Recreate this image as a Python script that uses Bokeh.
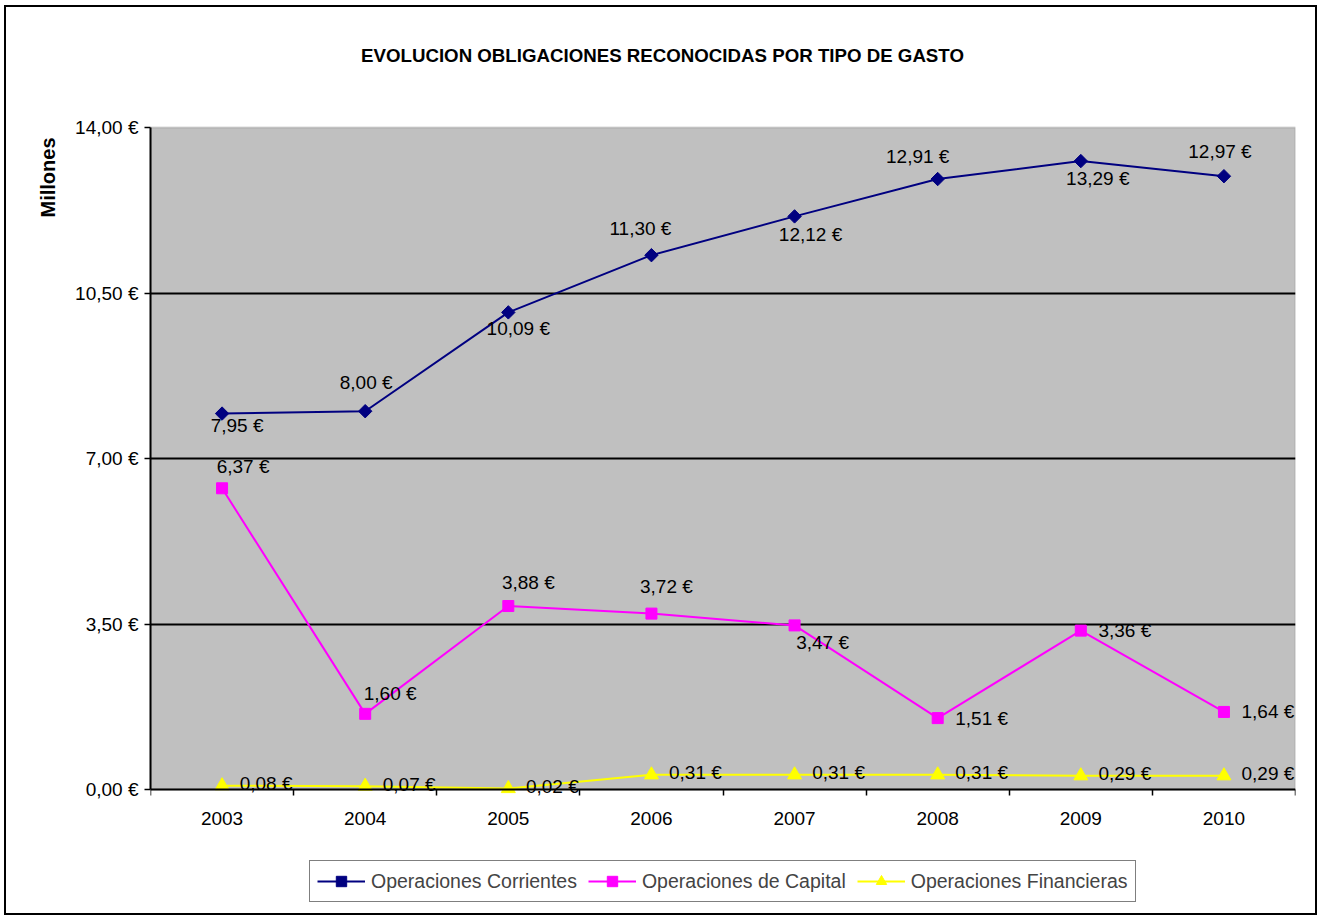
import math
from bokeh.plotting import figure
from bokeh.models import (Range1d, FixedTicker, ColumnDataSource, Legend, LegendItem, Title,
                          BoxAnnotation, Label)
from bokeh.embed import file_html
from bokeh.resources import INLINE
from bokeh.core.properties import value

# ---------------- data ----------------
years = ["2003", "2004", "2005", "2006", "2007", "2008", "2009", "2010"]
corrientes = [7.95, 8.00, 10.09, 11.30, 12.12, 12.91, 13.29, 12.97]
capital = [6.37, 1.60, 3.88, 3.72, 3.47, 1.51, 3.36, 1.64]
financieras = [0.08, 0.07, 0.02, 0.31, 0.31, 0.31, 0.29, 0.29]
series_names = ["Operaciones Corrientes", "Operaciones de Capital", "Operaciones Financieras"]
y_ticks = [0, 3.5, 7, 10.5, 14]
y_tick_labels = ["0,00 €", "3,50 €", "7,00 €", "10,50 €", "14,00 €"]
chart_title = "EVOLUCION OBLIGACIONES RECONOCIDAS POR TIPO DE GASTO"
y_title = "Millones"

# ---------------- styles / layout ----------------
FONT = "Liberation Sans"
FS = "19px"
colors = ["#000080", "#FF00FF", "#FFFF00"]
# data-label pixel offsets (dx right, dy down)
label_offsets = [
    [(15, 12), (1, -29), (10, 16), (-11, -27), (16, 18), (-20, -23), (17, 17), (-4, -25)],
    [(21, -22), (25, -20), (20, -24), (15, -27), (28, 17), (44, 0), (44, 0), (44, 0)],
    [(44, -2), (44, -2), (44, -2), (44, -2), (44, -2), (44, -2), (44, -2), (44, -2)],
]

W, H = 1313, 910             # figure size (canvas px)
FL, FW = 144, 1145           # frame left offset / width
BAND_TOP, BAND_H = 120, 662  # canvas y of the 14 line, pixel height of 0..14 band
Y_MAX = y_ticks[-1]
PPU = BAND_H / Y_MAX                     # px per value unit
Y_TOP = Y_MAX + BAND_TOP / PPU
Y_MIN = -(H - BAND_TOP - BAND_H) / PPU
X0 = -0.5
PPX = FW / len(years)

def cx(px):   # canvas x pixel -> data x
    return X0 + (px - FL) / PPX

def cy(py):   # canvas y pixel -> data y
    return Y_TOP - py / PPU

p = figure(width=W, height=H, output_backend="svg", toolbar_location=None,
           x_range=Range1d(X0, len(years) - 0.5), y_range=Range1d(Y_MIN, Y_TOP),
           min_border_left=FL, min_border_right=W - FL - FW,
           min_border_top=0, min_border_bottom=0,
           background_fill_color="white", border_fill_color="white")
p.styles = {"border": "2px solid black", "margin": "5px 0px 0px 4px"}
p.outline_line_color = None

# grey plot area (value band 0..14)
p.add_layout(BoxAnnotation(bottom=0, top=Y_MAX, fill_color="#C0C0C0", fill_alpha=1,
                           line_color="#808080", line_width=2, level="image"))

# chart title
p.add_layout(Label(x=cx(656), y=cy(48), text=chart_title, text_align="center",
                   text_baseline="middle", text_font=FONT, text_font_size="18.7px",
                   text_font_style="bold", text_color="black"))

# grid
p.xgrid.visible = False
p.ygrid.ticker = FixedTicker(ticks=y_ticks[1:-1])
p.ygrid.grid_line_color = "black"
p.ygrid.grid_line_width = 2

# axes
xs = list(range(len(years)))
xa = p.xaxis[0]
xa.fixed_location = 0
xa.ticker = FixedTicker(ticks=xs, minor_ticks=[i - 0.5 for i in range(len(years) + 1)])
xa.major_label_overrides = {i: y for i, y in enumerate(years)}
xa.major_tick_out = 0
xa.major_tick_in = 0
xa.minor_tick_out = 6
xa.minor_tick_in = 0
xa.minor_tick_line_color = "black"
xa.minor_tick_line_width = 1.5
xa.axis_line_color = "black"
xa.axis_line_width = 2
xa.major_label_standoff = 16
xa.major_label_text_font = FONT
xa.major_label_text_font_size = FS
xa.major_label_text_color = "black"

ya = p.yaxis[0]
ya.bounds = (0, Y_MAX)
ya.ticker = FixedTicker(ticks=y_ticks)
ya.major_label_overrides = {t: l for t, l in zip(y_ticks, y_tick_labels)}
ya.major_tick_out = 6
ya.major_tick_in = 0
ya.minor_tick_out = 0
ya.minor_tick_in = 0
ya.major_tick_line_width = 1.5
ya.axis_line_color = "black"
ya.axis_line_width = 2
ya.major_label_standoff = 6
ya.major_label_text_font = FONT
ya.major_label_text_font_size = FS
ya.major_label_text_color = "black"

# y title (left panel, near the top of the value band)
p.add_layout(Title(text=y_title, align="right", offset=BAND_TOP + 10, standoff=27,
                   text_font=FONT, text_font_size="20px", text_font_style="bold",
                   text_color="black"), "left")

markers = [("square", 9.5, math.pi / 4), ("square", 11, 0), ("triangle", 14, 0)]
items = []
for k, (vals, name) in enumerate(zip([corrientes, capital, financieras], series_names)):
    src = ColumnDataSource(dict(
        x=xs, y=vals,
        t=[f"{v:.2f}".replace(".", ",") + " €" for v in vals],
        dx=[o[0] for o in label_offsets[k]],
        dy=[o[1] for o in label_offsets[k]],
    ))
    lr = p.line("x", "y", source=src, line_color=colors[k], line_width=2)
    mk, sz, ang = markers[k]
    sr = p.scatter("x", "y", source=src, marker=mk, size=sz, angle=ang,
                   fill_color=colors[k], line_color=colors[k])
    p.text("x", "y", text="t", source=src, x_offset="dx", y_offset="dy",
           text_align="center", text_baseline="middle",
           text_font=value(FONT), text_font_size=FS, text_color="black")
    items.append(LegendItem(label=name, renderers=[lr, sr]))

legend = Legend(items=items, orientation="horizontal", location=(159, 15),
                border_line_color="black", border_line_width=1.5,
                background_fill_color="white", background_fill_alpha=1,
                label_text_font=FONT, label_text_font_size="19.5px",
                glyph_width=48, glyph_height=26, label_standoff=6,
                spacing=11, padding=7, margin=0)
p.add_layout(legend, "center")

open("out.html", "w").write(file_html(p, INLINE))
